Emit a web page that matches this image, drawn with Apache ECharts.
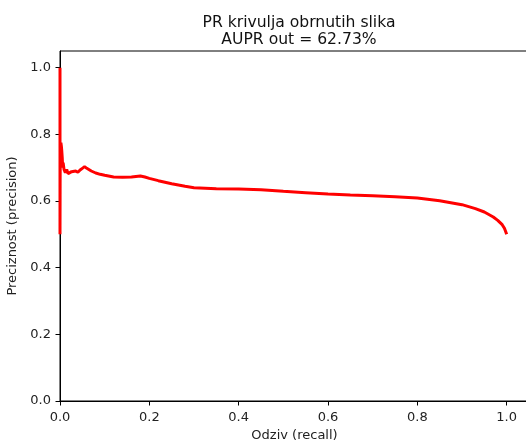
<!DOCTYPE html>
<html>
<head>
<meta charset="utf-8">
<script src="https://cdn.jsdelivr.net/npm/echarts@6/dist/echarts.min.js"></script>
<style>
html,body{margin:0;padding:0;background:#fff;}
#chart{width:526px;height:441px;}
</style>
</head>
<body>
<div id="chart"></div>
<script>
const titleText = "PR krivulja obrnutih slika\nAUPR out = 62.73%";
const xLabel = "Odziv (recall)";
const yLabel = "Preciznost (precision)";
const tickValues = [0, 0.2, 0.4, 0.6, 0.8, 1.0];
const recall = [0, 0, 0.0003, 0.0006, 0.001, 0.002, 0.003, 0.004, 0.005, 0.006, 0.007, 0.009, 0.012, 0.015, 0.018, 0.022, 0.026, 0.03, 0.035, 0.04, 0.045, 0.05, 0.055, 0.06, 0.07, 0.08, 0.09, 0.1, 0.12, 0.14, 0.16, 0.18, 0.19, 0.2, 0.22, 0.25, 0.28, 0.3, 0.35, 0.4, 0.45, 0.5, 0.55, 0.6, 0.65, 0.7, 0.75, 0.8, 0.85, 0.9, 0.93, 0.95, 0.97, 0.98, 0.99, 0.995, 1.0];
const precision = [1.0, 0.5, 0.667, 0.72, 0.76, 0.775, 0.765, 0.75, 0.73, 0.70, 0.715, 0.695, 0.685, 0.695, 0.682, 0.68, 0.688, 0.684, 0.69, 0.686, 0.693, 0.698, 0.703, 0.698, 0.69, 0.684, 0.68, 0.677, 0.672, 0.671, 0.672, 0.675, 0.672, 0.668, 0.661, 0.652, 0.644, 0.64, 0.637, 0.636, 0.634, 0.629, 0.625, 0.621, 0.618, 0.616, 0.613, 0.609, 0.601, 0.589, 0.577, 0.567, 0.552, 0.542, 0.529, 0.518, 0.50];

const chart = echarts.init(document.getElementById('chart'), null, {renderer: 'canvas'});
const font = 'DejaVu Sans';
const axisCommon = {
  min: 0, max: 1.05, interval: 0.2,
  axisLine: {show: true, lineStyle: {color: '#000', width: 1}},
  axisTick: {show: true, inside: false, length: 4.5, lineStyle: {color: '#000', width: 1}, customValues: tickValues},
  axisLabel: {color: '#222', fontFamily: font, fontSize: 13, margin: 8, customValues: tickValues,
    formatter: v => v.toFixed(1)},
  splitLine: {show: false},
  nameLocation: 'middle',
  nameTextStyle: {color: '#222', fontFamily: font, fontSize: 13}
};
chart.setOption({
  animation: false,
  backgroundColor: '#fff',
  title: {
    text: titleText,
    left: 294, top: 10, textAlign: 'center',
    textStyle: {fontFamily: font, fontSize: 15.6, fontWeight: 'normal', color: '#111', lineHeight: 16.5}
  },
  grid: {left: 60, top: 51, width: 469, height: 350, show: true, borderColor: '#000', borderWidth: 1, backgroundColor: 'transparent', containLabel: false, outerBoundsMode: 'none'},
  xAxis: Object.assign({}, axisCommon, {type: 'value', name: xLabel, nameGap: 27,
    axisLabel: Object.assign({}, axisCommon.axisLabel, {margin: 10})}),
  yAxis: Object.assign({}, axisCommon, {type: 'value', name: yLabel, nameGap: 35,
    axisLabel: Object.assign({}, axisCommon.axisLabel, {margin: 9})}),
  series: [{
    type: 'line',
    data: recall.map((r, i) => [r, precision[i]]),
    showSymbol: false,
    symbol: 'none',
    lineStyle: {color: '#ff0000', width: 3},
    clip: true
  }]
});
</script>
</body>
</html>
